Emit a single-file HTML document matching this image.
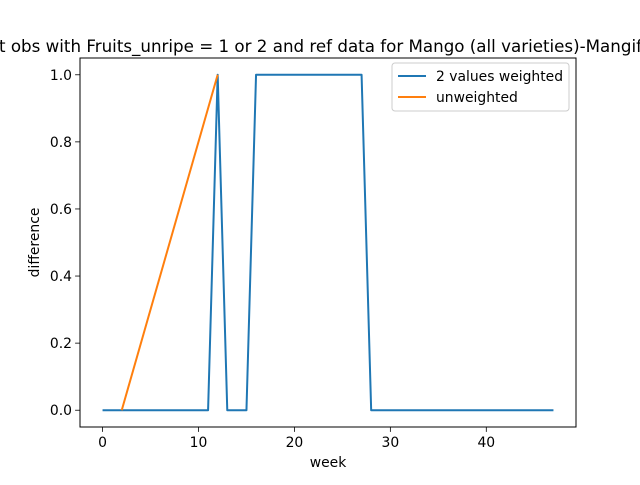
<!DOCTYPE html>
<html><head><meta charset="utf-8"><style>
body{margin:0;background:#fff;width:640px;height:480px;overflow:hidden}
text{font-family:"DejaVu Sans","Liberation Sans",sans-serif;fill:#000}
</style></head><body>
<svg id="chart" width="640" height="480" xmlns="http://www.w3.org/2000/svg">
<text x="-1" y="52" font-size="16.7" text-anchor="start">t obs with Fruits_unripe = 1 or 2 and ref data for Mango (all varieties)-Mangifera indica</text>
<g id="plot"></g>
</svg>
<script>
const weightedX=[0,1,2,3,4,5,6,7,8,9,10,11,12,13,14,15,16,17,18,19,20,21,22,23,24,25,26,27,28,29,30,31,32,33,34,35,36,37,38,39,40,41,42,43,44,45,46,47];
const weightedY=[0,0,0,0,0,0,0,0,0,0,0,0,1,0,0,0,1,1,1,1,1,1,1,1,1,1,1,1,0,0,0,0,0,0,0,0,0,0,0,0,0,0,0,0,0,0,0,0];
const unweightedX=[2,12];
const unweightedY=[0,1];
const xTicks=[0,10,20,30,40];
const yTicks=[0,0.2,0.4,0.6,0.8,1.0];
const yTickLabels=["0.0","0.2","0.4","0.6","0.8","1.0"];
const L=80,R=576,T=58,B=427;
const xmin=-2.35,xmax=49.35,ymin=-0.05,ymax=1.05;
const sx=v=>L+(v-xmin)/(xmax-xmin)*(R-L);
const sy=v=>B-(v-ymin)/(ymax-ymin)*(B-T);
const ns="http://www.w3.org/2000/svg";
const g=document.getElementById('plot');
function mk(t,a,p){const e=document.createElementNS(ns,t);for(const k in a)e.setAttribute(k,a[k]);(p||g).appendChild(e);return e;}
xTicks.forEach(v=>{
 const l=mk('line',{x1:sx(v),x2:sx(v),y1:B,y2:B+4.9,stroke:'#000','stroke-width':0.8});
 
 
 const t=mk('text',{x:sx(v),y:B+20,'font-size':13.9,'text-anchor':'middle'});t.textContent=v;
 
 
});
yTicks.forEach((v,i)=>{
 const l=mk('line',{x1:L-4.9,x2:L,y1:sy(v),y2:sy(v),stroke:'#000','stroke-width':0.8});
 
 
 const t=mk('text',{x:L-8,y:sy(v)+5,'font-size':13.9,'text-anchor':'end'});t.textContent=yTickLabels[i];
 
 
});
function line(xs,ys,c,name){
 const p=mk('polyline',{points:xs.map((x,i)=>sx(x)+','+sy(ys[i])).join(' '),fill:'none',stroke:c,'stroke-width':2,'stroke-linejoin':'round'});
 
 
}
line(weightedX,weightedY,'#1f77b4','weighted-line');
line(unweightedX,unweightedY,'#ff7f0e','unweighted-line');
const fr=mk('rect',{x:L,y:T,width:R-L,height:B-T,fill:'none',stroke:'#000','stroke-width':1});


const xl=mk('text',{x:(L+R)/2,y:467,'font-size':13.9,'text-anchor':'middle'});xl.textContent='week';


const yl=mk('text',{x:0,y:0,'font-size':13.9,'text-anchor':'middle',transform:'translate(39,'+((T+B)/2)+') rotate(-90)'});yl.textContent='difference';


const lg=mk('g',{});


mk('rect',{x:392,y:63,width:177,height:48,rx:3,fill:'#fff',stroke:'#ccc','stroke-width':1},lg);
[['2 values weighted','#1f77b4'],['unweighted','#ff7f0e']].forEach((e,i)=>{
 const y=76+i*21;
 const ln=mk('line',{x1:398,x2:426,y1:y,y2:y,stroke:e[1],'stroke-width':2},lg);
 
 
 const t=mk('text',{x:436,y:y+5,'font-size':13.9},lg);t.textContent=e[0];
 
 
});
</script>
</body></html>
